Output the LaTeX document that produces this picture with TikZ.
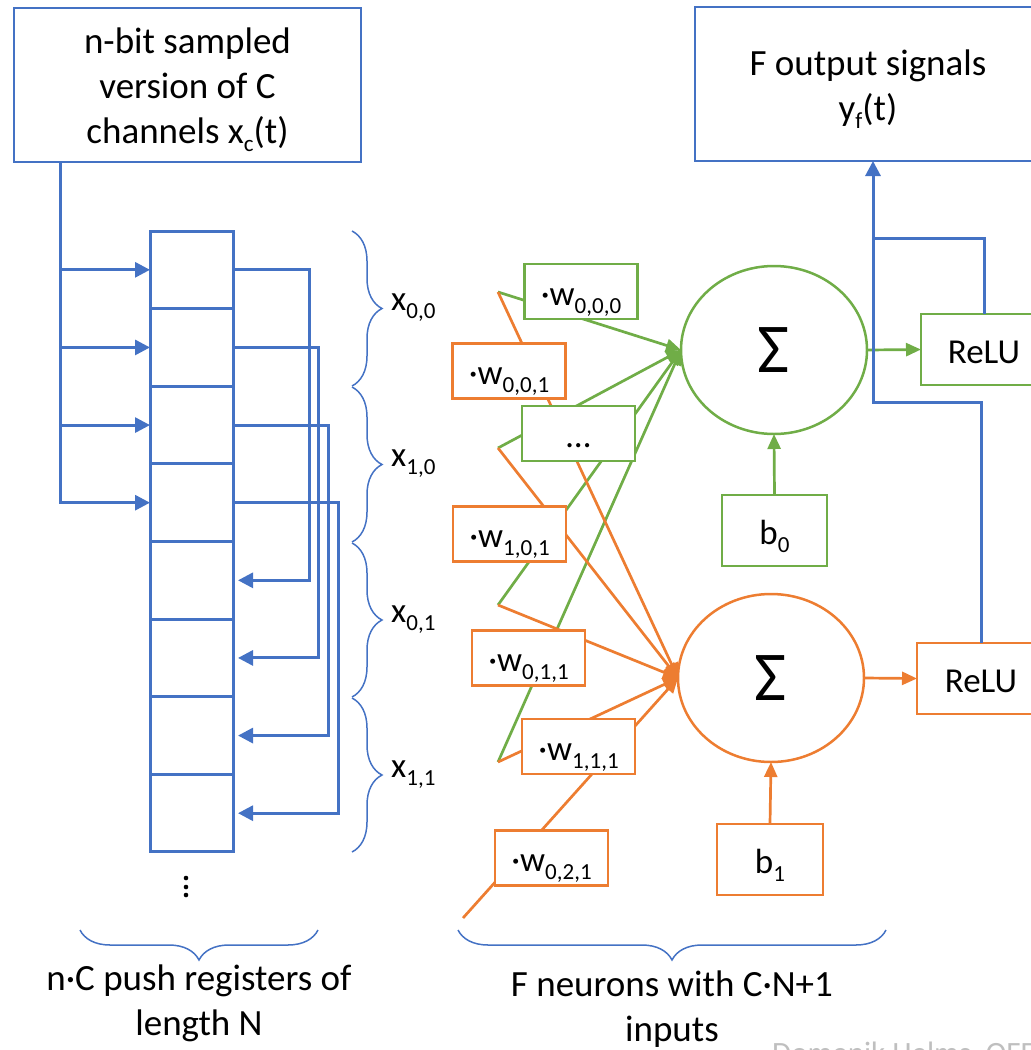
\documentclass[tikz,border=0pt]{standalone}
\usepackage{fontspec}
\setmainfont{Carlito}
\usetikzlibrary{arrows.meta,decorations.pathreplacing,shapes.geometric,calc}
\definecolor{oblue}{HTML}{4472C4}
\definecolor{oorange}{HTML}{ED7D31}
\definecolor{ogreen}{HTML}{70AD47}
\definecolor{wmgray}{HTML}{BFBFBF}
\newcommand{\sbs}[1]{\raisebox{-8pt}{\fontsize{23}{23}\selectfont #1}}
\begin{document}
\begin{tikzpicture}[x=1pt,y=-1pt,
  bigtxt/.style={font=\fontsize{37}{45}\selectfont},
  labtxt/.style={font=\fontsize{35}{45}\selectfont},
  onel/.style={text height=34pt,text depth=7pt},
  twol/.style={text height=79pt,text depth=7pt},
  threel/.style={text height=124pt,text depth=7pt},
  boxb/.style={draw=oblue,line width=2.5pt,fill=white,inner sep=0pt,outer sep=0pt},
  boxg/.style={draw=ogreen,line width=2.5pt,fill=white,inner sep=0pt,outer sep=0pt},
  boxo/.style={draw=oorange,line width=2.5pt,fill=white,inner sep=0pt,outer sep=0pt},
  wgt/.style={labtxt,onel,minimum width=113pt,minimum height=55pt},
  cell/.style={draw=oblue,line width=3pt,minimum width=83pt,minimum height=77.6pt,inner sep=0pt,outer sep=0pt},
  bl/.style={draw=oblue,line width=3pt},
  gl/.style={draw=ogreen,line width=2.7pt},
  ol/.style={draw=oorange,line width=2.7pt},
  arr/.style={-{Triangle[length=15pt,width=15pt]}},
  carr/.style={-{Triangle[length=15pt,width=13pt]}},
  brc/.style={draw=oblue,line width=1.5pt,decorate,decoration={brace,amplitude=30pt}},
  sig/.style={ellipse,line width=2.5pt,fill=white,inner sep=0pt,outer sep=0pt,minimum width=186pt,minimum height=168pt,font=\fontsize{70}{70}\selectfont},
]
\useasboundingbox (0,0) rectangle (1031,1050);

% ---------- top boxes ----------
\node[boxb,bigtxt,threel,align=center,minimum width=347pt,minimum height=154pt] (ib) at (187.5,85)
  {n-bit sampled\\version of C\\channels x\sbs{c}(t)};
\node[boxb,bigtxt,twol,align=center,minimum width=346pt,minimum height=154pt] (ob) at (868,84)
  {F output signals\\y\sbs{f}(t)};

% ---------- register ----------
\foreach \i in {1,...,8}
  \node[cell] (r\i) at (191.5,{231+77.625*(\i-0.5)}) {};
\coordinate (ft) at ($(ib.south west)+(46,0)$);
\draw[bl,arr] (ft) |- (r4.west);
\foreach \i in {1,2,3}
  \draw[bl,arr] (r\i.west -| ft) -- (r\i.west);
\draw[bl,arr,shorten >=5pt] (r1.east) -- ++(76,0) |- (r5.east);
\draw[bl,arr,shorten >=5pt] (r2.east) -- ++(85,0) |- (r6.east);
\draw[bl,arr,shorten >=5pt] (r3.east) -- ++(95,0) |- (r7.east);
\draw[bl,arr,shorten >=5pt] (r4.east) -- ++(105,0) |- (r8.east);
\foreach \yy in {878,887,895}
  \fill (186,\yy) circle (2.3pt);

% ---------- braces and x labels ----------
\draw[brc] (352,231) -- (352,386);
\draw[brc] (352,387) -- (352,542);
\draw[brc] (352,543) -- (352,697);
\draw[brc] (352,698) -- (352,852);
\node[labtxt,anchor=base west,inner sep=0pt] (x00) at (391,310) {x\sbs{0,0}};
\node[labtxt,anchor=base west,inner sep=0pt] (x10) at (391,466) {x\sbs{1,0}};
\node[labtxt,anchor=base west,inner sep=0pt] (x01) at (391,622) {x\sbs{0,1}};
\node[labtxt,anchor=base west,inner sep=0pt] (x11) at (391,777) {x\sbs{1,1}};

\draw[brc] (318,930) -- (80,930);
\draw[brc] (886,930) -- (458,930);
\node[bigtxt,twol,align=center] (lbl1) at (199,999) {n·C push registers of\\length N};
\node[bigtxt,twol,align=center] (lbl2) at (672,1005) {F neurons with C·N+1\\inputs};

% ---------- neurons ----------
\node[sig,draw=ogreen] (sg) at (774,350) {Σ};
\node[sig,draw=oorange] (so) at (771,678) {Σ};

\coordinate (i00) at (498,292);
\coordinate (i10) at (498,448);
\coordinate (i01) at (498,605);
\coordinate (i11) at (498,762);
\coordinate (i21) at (463,918);

\foreach \p in {i00,i10,i01,i11}
  \draw[gl,carr] (\p) -- (sg.west);
\foreach \p in {i00,i10,i01,i11,i21}
  \draw[ol,carr] (\p) -- (so.west);

\node[boxg,wgt] (w000) at (581,291.5) {·w\sbs{0,0,0}};
\node[boxo,wgt] (w001) at (509,371) {·w\sbs{0,0,1}};
\node[boxg,wgt] (wdots) at (578.5,433.5) {…};
\node[boxo,wgt] (w101) at (509.5,534) {·w\sbs{1,0,1}};
\node[boxo,wgt] (w011) at (528.5,658) {·w\sbs{0,1,1}};
\node[boxo,wgt] (w111) at (578.5,746.5) {·w\sbs{1,1,1}};
\node[boxo,wgt] (w021) at (551.5,858) {·w\sbs{0,2,1}};

\node[boxg,labtxt,onel,minimum width=105pt,minimum height=71pt] (b0) at (774.5,530.5) {b\sbs{0}};
\node[boxo,labtxt,onel,minimum width=106pt,minimum height=71pt] (b1) at (770,859.5) {b\sbs{1}};
\draw[gl,carr] (b0.north) -- (sg.south);
\draw[ol,carr] (b1.north) -- (so.south);

\node[boxg,labtxt,onel,minimum width=126pt,minimum height=71pt] (rg) at (984,349.5) {ReLU};
\node[boxo,labtxt,onel,minimum width=128pt,minimum height=71pt] (ro) at (981,678.5) {ReLU};
\draw[gl,carr] (sg.east) -- (rg.west);
\draw[ol,carr] (so.east) -- (ro.west);

% ---------- outputs ----------
\coordinate (tj) at (873,238);
\coordinate (tb) at (873,402);
\draw[bl] (rg.north) |- (tj);
\draw[bl,arr] (ro.north) |- (tb) -- (tb |- ob.south);

% ---------- watermark ----------
\node[anchor=base west,inner sep=0pt,text=wmgray,font=\fontsize{31}{31}\selectfont] (wm) at (772,1063) {Domenik Helms, OFFIS};
\end{tikzpicture}
\end{document}
